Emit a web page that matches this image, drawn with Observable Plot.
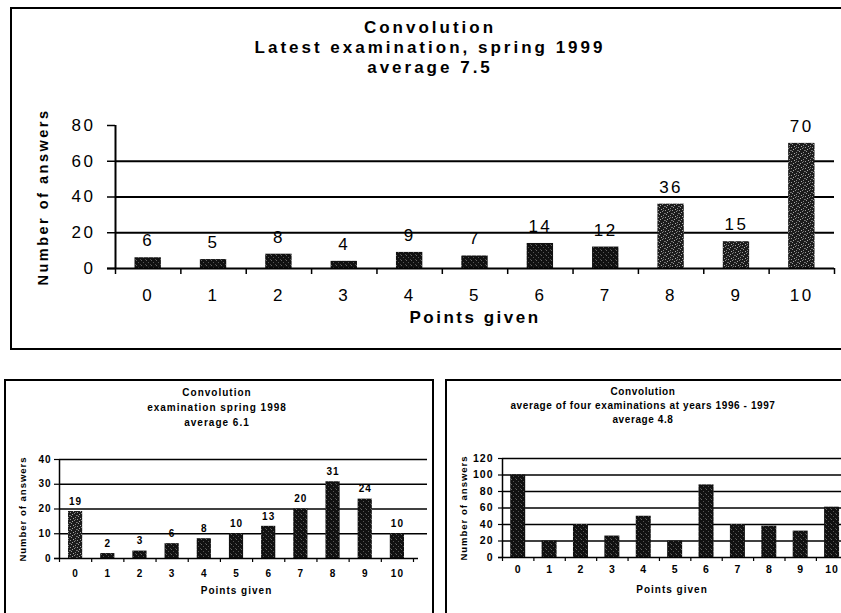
<!DOCTYPE html>
<html>
<head>
<meta charset="utf-8">
<script src="https://cdn.jsdelivr.net/npm/d3@7"></script>
<script src="https://cdn.jsdelivr.net/npm/@observablehq/plot@0.6"></script>
<style>
  body { margin: 0; background: #fff; }
  #wrap { position: relative; width: 841px; height: 613px; overflow: hidden; font-family: "Liberation Sans", Arial, sans-serif; color: #000; }
  .panel { position: absolute; border: 2px solid #000; box-sizing: border-box; }
  .chart { position: absolute; }
  .title { position: absolute; text-align: center; font-weight: bold; white-space: nowrap; transform: translateX(-50%); }
  #topChart svg text { letter-spacing: 2.5px; }
  #leftChart svg text, #rightChart svg text { letter-spacing: 1px; }
</style>
</head>
<body>
<svg width="0" height="0" style="position:absolute">
  <defs>
    <pattern id="speck" width="5" height="5" patternUnits="userSpaceOnUse">
      <rect width="5" height="5" fill="#111"/>
      <rect x="1" y="0" width="1" height="1" fill="#666"/>
      <rect x="3" y="2" width="1" height="1" fill="#555"/>
      <rect x="0" y="4" width="1" height="1" fill="#4a4a4a"/>
    </pattern>
    <pattern id="speckLight" width="7" height="7" patternUnits="userSpaceOnUse">
      <rect width="7" height="7" fill="#1c1c1c"/>
      <rect x="0" y="0" width="1" height="1" fill="#999"/>
      <rect x="4" y="1" width="1" height="1" fill="#888"/>
      <rect x="2" y="2" width="1" height="1" fill="#aaa"/>
      <rect x="6" y="3" width="1" height="1" fill="#777"/>
      <rect x="1" y="4" width="1" height="1" fill="#999"/>
      <rect x="5" y="5" width="1" height="1" fill="#888"/>
      <rect x="3" y="6" width="1" height="1" fill="#aaa"/>
      <rect x="0" y="3" width="1" height="1" fill="#666"/>
      <rect x="5" y="0" width="1" height="1" fill="#666"/>
    </pattern>
  </defs>
</svg>
<div id="wrap">
  <div class="panel" style="left:10px; top:7px; width:840px; height:343px; border-right:none;"></div>
  <div class="panel" style="left:4px; top:379px; width:430px; height:260px; border-bottom:none;"></div>
  <div class="panel" style="left:445px; top:379px; width:410px; height:260px; border-right:none; border-bottom:none;"></div>

  <div class="title" id="t1" style="left:430px; top:18px; font-size:17px; line-height:20px; letter-spacing:3px;"></div>
  <div class="title" id="t2" style="left:217px; top:385px; font-size:10px; line-height:15px; letter-spacing:1px;"></div>
  <div class="title" id="t3" style="left:643px; top:385px; font-size:10px; line-height:14px; letter-spacing:0.6px;"></div>

  <div class="chart" id="topChart" style="left:0px; top:0px;"></div>
  <div class="chart" id="leftChart" style="left:0px; top:379px;"></div>
  <div class="chart" id="rightChart" style="left:430px; top:379px;"></div>
</div>
<script>
// ---- data ----
const points = [0, 1, 2, 3, 4, 5, 6, 7, 8, 9, 10];
const answers1999 = [6, 5, 8, 4, 9, 7, 14, 12, 36, 15, 70];
const answers1998 = [19, 2, 3, 6, 8, 10, 13, 20, 31, 24, 10];
const answers9697 = [100, 20, 40, 26, 50, 20, 88, 40, 38, 32, 61];

const yTicksTop = [0, 20, 40, 60, 80];
const gridTop = [20, 40, 60];
const yTicksLeft = [0, 10, 20, 30, 40];
const gridLeft = [10, 20, 30, 40];
const yTicksRight = [0, 20, 40, 60, 80, 100, 120];
const gridRight = [20, 40, 60, 80, 100, 120];

const titleTop = ["Convolution", "Latest examination, spring 1999", "average 7.5"];
const titleLeft = ["Convolution", "examination spring 1998", "average 6.1"];
const titleRight = ["Convolution", "average of four examinations at years 1996 - 1997", "average 4.8"];
const xLabel = "Points given";
const yLabel = "Number of answers";

// ---- titles ----
document.getElementById("t1").innerHTML = titleTop.join("<br>");
document.getElementById("t2").innerHTML = titleLeft.join("<br>");
document.getElementById("t3").innerHTML = titleRight.join("<br>");

const table = (vals) => points.map((p, i) => ({p, n: vals[i]}));
const bounds = points.map(p => p - 0.5).concat([points[points.length - 1] + 0.5]);
const font = "'Liberation Sans', Arial, sans-serif";

// ---- top chart ----
const d1999 = table(answers1999);
const topPlot = Plot.plot({
  width: 841, height: 350,
  marginLeft: 115, marginRight: 7, marginTop: 125, marginBottom: 82,
  x: {type: "linear", domain: [-0.5, 10.5]},
  y: {domain: [0, 80]},
  style: {fontFamily: font, fontSize: "17px", background: "transparent", color: "#000"},
  marks: [
    Plot.ruleY(gridTop, {stroke: "#000", strokeWidth: 2}),
    Plot.rectY(d1999, {x1: d => d.p - 0.5, x2: d => d.p + 0.5, y: "n", insetLeft: 19.5, insetRight: 19.5,
      fill: d => d.n >= 15 ? "url(#speckLight)" : "url(#speck)"}),
    Plot.ruleY([0], {stroke: "#000", strokeWidth: 2, insetLeft: -8}),
    Plot.ruleX([-0.5], {y1: 0, y2: 80, stroke: "#000", strokeWidth: 2}),
    Plot.axisY({ticks: yTicksTop, tickSize: 8, tickPadding: 12, strokeWidth: 1.5, label: null, fontSize: 17}),
    Plot.axisX({ticks: bounds, tickSize: 6, tickFormat: () => "", strokeWidth: 1.5, label: null}),
    Plot.axisX({ticks: points, tickSize: 0, tickPadding: 20, tickFormat: d => String(d), label: null, fontSize: 17}),
    Plot.text(d1999, {x: "p", y: "n", text: d => String(d.n), dy: -17, fontSize: 17}),
    Plot.text([xLabel], {frameAnchor: "bottom", dy: 54, fontWeight: "bold", fontSize: 17}),
    Plot.text([yLabel], {frameAnchor: "left", textAnchor: "middle", dx: -72, rotate: -90, fontWeight: "bold", fontSize: 14.5, ariaLabel: "ylabel"})
  ]
});
d3.select(topPlot).selectAll('g[aria-label="ylabel"] text').style("letter-spacing", "0px");
document.getElementById("topChart").append(topPlot);

// ---- bottom-left chart ----
const d1998 = table(answers1998);
const leftPlot = Plot.plot({
  width: 433, height: 234,
  marginLeft: 59, marginRight: 20, marginTop: 80, marginBottom: 55,
  x: {type: "linear", domain: [-0.5, 10.5]},
  y: {domain: [0, 40]},
  style: {fontFamily: font, fontSize: "10px", fontWeight: "bold", background: "transparent", color: "#000"},
  marks: [
    Plot.ruleY(gridLeft, {stroke: "#000", strokeWidth: 1.5, insetRight: -14}),
    Plot.rectY(d1998, {x1: d => d.p - 0.5, x2: d => d.p + 0.5, y: "n", insetLeft: 9, insetRight: 9,
      fill: d => d.p === 0 ? "url(#speckLight)" : "url(#speck)"}),
    Plot.ruleY([0], {stroke: "#000", strokeWidth: 1.5, insetLeft: -5, insetRight: -5}),
    Plot.ruleX([-0.5], {y1: 0, y2: 40, stroke: "#000", strokeWidth: 1.5}),
    Plot.axisY({ticks: yTicksLeft, tickSize: 5, tickPadding: 3, strokeWidth: 1.2, label: null, fontSize: 10, fontWeight: "bold"}),
    Plot.axisX({ticks: bounds, tickSize: 4, tickFormat: () => "", strokeWidth: 1.2, label: null}),
    Plot.axisX({ticks: points, tickSize: 0, tickPadding: 11, tickFormat: d => String(d), label: null, fontSize: 10, fontWeight: "bold"}),
    Plot.text(d1998, {x: "p", y: "n", text: d => String(d.n), dy: -10, fontSize: 10, fontWeight: "bold"}),
    Plot.text([xLabel], {frameAnchor: "bottom", dy: 35, fontWeight: "bold", fontSize: 10}),
    Plot.text([yLabel], {frameAnchor: "left", textAnchor: "middle", dx: -37, rotate: -90, fontWeight: "bold", fontSize: 9.5, ariaLabel: "ylabel"})
  ]
});
document.getElementById("leftChart").append(leftPlot);

// ---- bottom-right chart ----
const d9697 = table(answers9697);
const rightPlot = Plot.plot({
  width: 411, height: 234,
  marginLeft: 72, marginRight: 0, marginTop: 79, marginBottom: 56,
  x: {type: "linear", domain: [-0.5, 10.3]},
  y: {domain: [0, 120]},
  style: {fontFamily: font, fontSize: "10px", fontWeight: "bold", background: "transparent", color: "#000"},
  marks: [
    Plot.ruleY(gridRight, {stroke: "#000", strokeWidth: 1.5}),
    Plot.rectY(d9697, {x1: d => d.p - 0.5, x2: d => d.p + 0.5, y: "n", insetLeft: 8.2, insetRight: 8.2, fill: "url(#speck)"}),
    Plot.ruleY([0], {stroke: "#000", strokeWidth: 1.5, insetLeft: -4}),
    Plot.ruleX([-0.5], {y1: 0, y2: 120, stroke: "#000", strokeWidth: 1.5}),
    Plot.axisY({ticks: yTicksRight, tickSize: 4, tickPadding: 5, strokeWidth: 1.2, label: null, fontSize: 10.5, fontWeight: "bold"}),
    Plot.axisX({ticks: bounds.filter(b => b <= 10.3), tickSize: 4, tickFormat: () => "", strokeWidth: 1.2, label: null}),
    Plot.axisX({ticks: points, tickSize: 0, tickPadding: 8, tickFormat: d => String(d), label: null, fontSize: 10.5, fontWeight: "bold"}),
    Plot.text([xLabel], {frameAnchor: "bottom", dy: 35, fontWeight: "bold", fontSize: 10}),
    Plot.text([yLabel], {frameAnchor: "left", textAnchor: "middle", dx: -39, rotate: -90, fontWeight: "bold", fontSize: 9.5, ariaLabel: "ylabel"})
  ]
});
document.getElementById("rightChart").append(rightPlot);
</script>
</body>
</html>
